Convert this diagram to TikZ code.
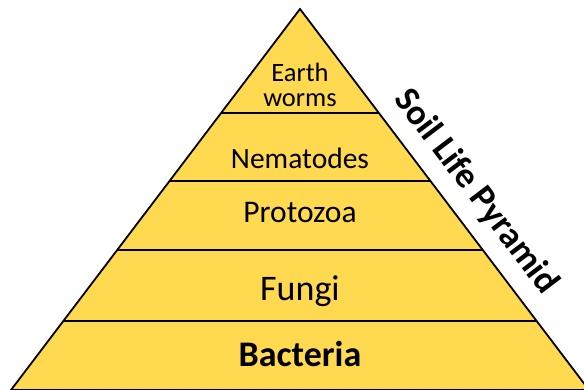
\documentclass[tikz,border=0pt]{standalone}
\usepackage{fontspec}
\setmainfont{Carlito}
\definecolor{pyrfill}{RGB}{255,217,80}
\begin{document}
\begin{tikzpicture}[x=1pt,y=-1pt,
  band/.style={draw=black,line width=1.5pt},
  lvl/.style={font=\fontsize{#1}{#1}\selectfont,inner sep=0pt,align=center},
  ttl/.style={font=\bfseries\fontsize{36}{36}\selectfont,inner sep=0pt,rotate=-52.8}]
\useasboundingbox (0,0) rectangle (584,389);
\clip (0,0) rectangle (584,389);
\coordinate (apex) at (300,9);
\coordinate (bl) at (11,390);
\coordinate (br) at (589,390);
\filldraw[fill=pyrfill,draw=black,line width=1.8pt,line join=miter] (bl) -- (apex) -- (br) -- cycle;
\coordinate (l1) at (221,113); \coordinate (r1) at (379,113);
\coordinate (l2) at (169.5,181); \coordinate (r2) at (430.5,181);
\coordinate (l3) at (117,250); \coordinate (r3) at (483,250);
\coordinate (l4) at (63,321); \coordinate (r4) at (537,321);
\draw[band] (l1) -- (r1);
\draw[band] (l2) -- (r2);
\draw[band] (l3) -- (r3);
\draw[band] (l4) -- (r4);
\node[lvl=26.5] (ew) at (300,85) {Earth\\[-1pt]worms};
\node[lvl=29.5] (nem) at (300,158) {Nematodes};
\node[lvl=31.5] (pro) at (300,213) {Protozoa};
\node[lvl=36] (fun) at (300,291) {Fungi};
\node[lvl=36,font=\bfseries\fontsize{36}{36}\selectfont] (bac) at (300,354) {Bacteria};
\node[ttl] (title) at (476,192) {Soil Life Pyramid};
\end{tikzpicture}
\end{document}
